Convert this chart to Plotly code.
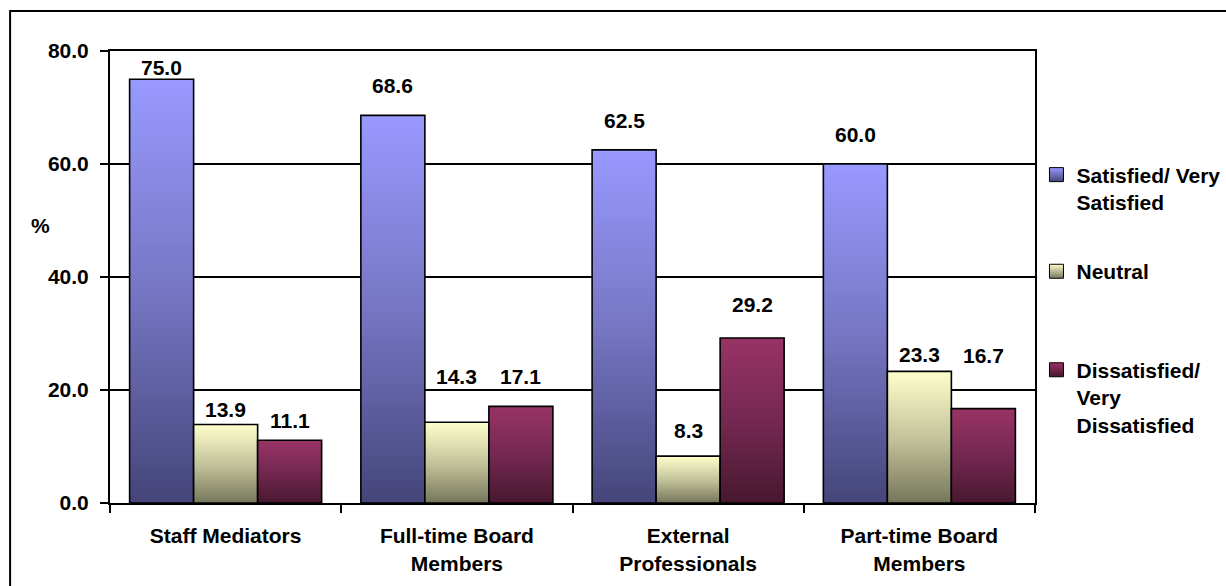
import plotly.graph_objects as go

# Survey results: share of respondents (%) by mediator type
categories = ["Staff Mediators", "Full-time Board<br>Members",
              "External<br>Professionals", "Part-time Board<br>Members"]
series_names = ["Satisfied/ Very<br>Satisfied", "Neutral",
                "Dissatisfied/<br>Very<br>Dissatisfied"]
satisfied = [75.0, 68.6, 62.5, 60.0]
neutral = [13.9, 14.3, 8.3, 23.3]
dissatisfied = [11.1, 17.1, 29.2, 16.7]
y_ticks = [0, 20, 40, 60, 80]

series_values = [satisfied, neutral, dissatisfied]

# gradient colours per series: (bottom, middle, top)
gradients = [
    ("#45457A", "#7676C4", "#9999FF"),
    ("#76765C", "#C4C49C", "#FFFFCC"),
    ("#48182F", "#742851", "#993366"),
]

# pixel gap between each bar top and its value label baseline
label_gaps = [
    [3, 21, 21, 21],
    [6, 37, 17, 8],
    [11, 21, 25, 45],
]

FONT = "Liberation Sans, Arial, sans-serif"
FS = 21


def bold(size=FS):
    return dict(family=FONT, size=size, color="black", weight="bold")


bar_w = 0.2768  # width of one bar in category units
fig = go.Figure()
annotations = []

for s, vals in enumerate(series_values):
    dark, mid, light = gradients[s]
    for c, v in enumerate(vals):
        xc = c + (s - 1) * bar_w
        x0, x1 = xc - bar_w / 2, xc + bar_w / 2
        fig.add_trace(go.Scatter(
            x=[x0, x0, x1, x1, x0], y=[0, v, v, 0, 0],
            mode="lines", fill="toself",
            line=dict(color="black", width=1.6),
            fillgradient=dict(type="vertical", start=0, stop=v,
                              colorscale=[[0, dark], [0.5, mid], [1, light]]),
            showlegend=False, hoverinfo="skip",
        ))
        annotations.append(dict(
            x=xc, y=v, xref="x", yref="y", text=f"{v:.1f}",
            showarrow=False, yanchor="bottom",
            yshift=label_gaps[s][c] - 5,
            font=bold(),
        ))

# legend entries, each in its own legend box (container coordinates)
legend_tops = [0.7364, 0.5715, 0.4034]
for s, name in enumerate(series_names):
    dark, mid, light = gradients[s]
    key = "legend" if s == 0 else f"legend{s + 1}"
    fig.add_trace(go.Scatter(
        x=[None], y=[None], mode="markers", name=name,
        marker=dict(symbol="square", size=14, color=light,
                    gradient=dict(type="vertical", color=dark),
                    line=dict(color="black", width=1)),
        legend=key,
    ))

legend_style = dict(
    x=0.8454, xref="container", yref="container",
    xanchor="left", yanchor="top", valign="top",
    bgcolor="rgba(0,0,0,0)", borderwidth=0,
    font=bold(),
)

annotations.append(dict(
    x=-0.0746, y=0.615, xref="paper", yref="paper", text="%",
    xanchor="center", yanchor="middle",
    showarrow=False, font=bold(),
))

fig.update_layout(
    width=1226, height=586,
    margin=dict(l=110, r=191, t=51, b=83, autoexpand=False),
    paper_bgcolor="white", plot_bgcolor="white",
    font=bold(),
    annotations=annotations,
    legend=dict(y=legend_tops[0], **legend_style),
    legend2=dict(y=legend_tops[1], **legend_style),
    legend3=dict(y=legend_tops[2], **legend_style),
    shapes=[dict(type="rect", xref="paper", yref="paper",
                 x0=-0.108, y0=-0.5, x1=1.5, y1=1.0885,
                 line=dict(color="black", width=2), layer="below")],
)

fig.update_xaxes(
    range=[-0.5, 3.5], tickmode="array",
    tickvals=list(range(len(categories))), ticktext=categories,
    ticks="", showgrid=False, zeroline=False,
    showline=True, mirror=True, linecolor="black", linewidth=2,
    ticklabelstandoff=13, automargin=False,
    minor=dict(tickmode="array", tickvals=[i - 0.5 for i in range(len(categories) + 1)],
               ticks="outside", ticklen=8, tickwidth=1.5, tickcolor="black",
               showgrid=False),
    tickfont=bold(),
)
fig.update_yaxes(
    range=[0, 80], tickmode="array", tickvals=y_ticks, tickformat=".1f",
    ticks="outside", ticklen=8, tickwidth=1.5, tickcolor="black",
    showgrid=True, gridcolor="black", gridwidth=1.5, zeroline=False,
    showline=True, mirror=True, linecolor="black", linewidth=2,
    ticklabelstandoff=7, automargin=False,
    tickfont=bold(),
)

fig.write_html("out.html")
